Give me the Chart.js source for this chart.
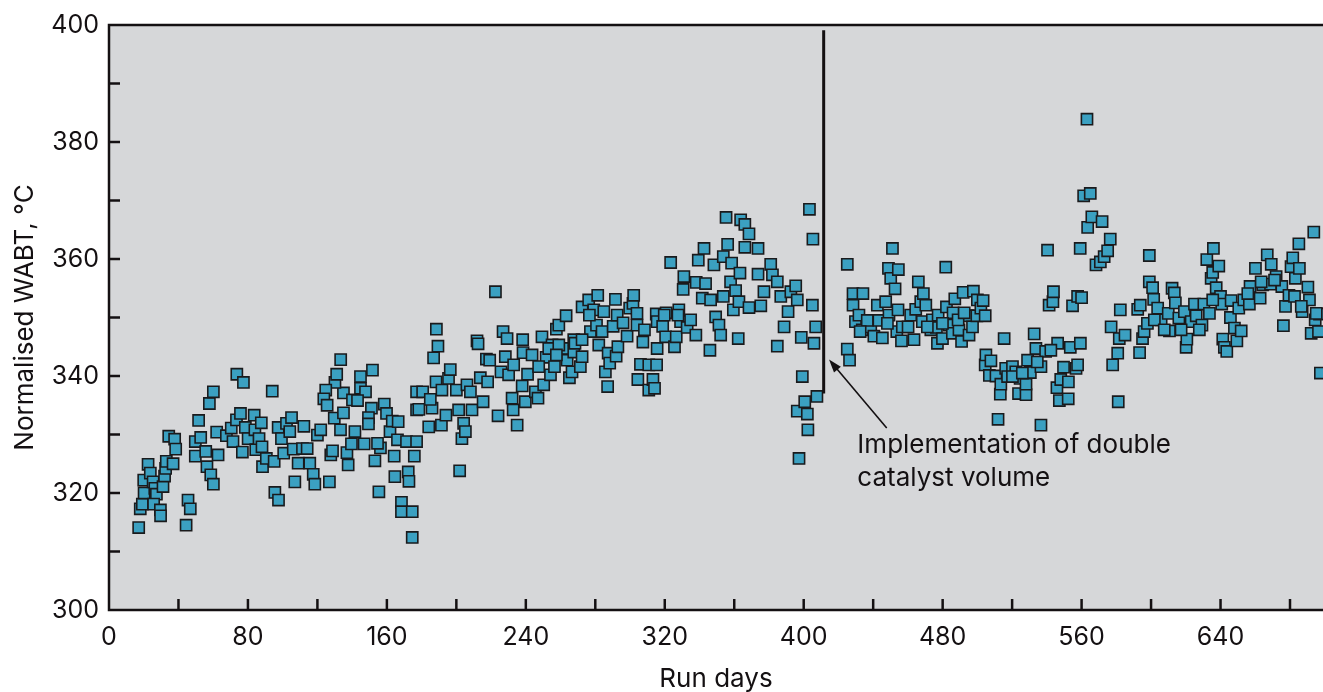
<!DOCTYPE html>
<html><head><meta charset="utf-8">
<script src="https://cdn.jsdelivr.net/npm/chart.js@4.4.1/dist/chart.umd.min.js"></script>
<style>html,body{margin:0;padding:0;background:#fff;}canvas{display:block;}</style>
</head><body>
<canvas id="c" width="1323" height="692"></canvas>
<script>
// ---- data ----
const days = [
17.1,18,19.2,20.2,20,22.5,23.8,25.4,26.4,27.3,25.7,29.6,29.7,31.1,32,32.6,33,36.9,34.4,37.8,38.4,45.5,46.8,44.4,49.7,52.8,49.7,55.7,51.6,56.4,58.6,60.1,57.8,60.1,62,62.8,67.6,70.4,71.4,73.6,77.4,73.4,75.7,78.5,76.8,80.1,83.6,84,84.5,87.7,86.4,88.1,88.4,94,90.6,95.1,97.4,95.5,97.6,99.3,100.6,102.2,105.1,104.1,106.1,107,108.9,111.4,112.2,114.1,115.6,117.6,118.5,120,121.9,126.9,127.7,128.7,129.7,133.3,135,130.1,131.1,133.4,124.8,123.7,125.6,135,137,137.7,140.2,141.6,139.6,144.8,144.8,147.7,143.1,146.9,151.7,151.1,149.4,149.4,153.1,155.4,156.3,154.6,158.5,159.8,161.8,163.1,166.5,164.6,164.2,166.1,168.4,168.4,171.3,172.3,172.7,174.6,174.6,175.8,177.1,177.1,177.1,
178.4,180.6,184.1,186,186.9,188.3,188.5,189.4,191.4,191.7,194,195.5,196.5,200,201.3,203.2,204.2,206.1,208.1,209,211.9,212.5,213.8,215.4,217.3,218,219.2,222.5,224,225.7,226.9,228.2,229.2,230.1,232.1,232.7,233,235,237.9,238.2,238.4,239.7,241,243.6,245.5,247,249.3,250.3,251.7,254.2,255.1,256.5,257.6,259,261.8,263.2,263.8,265.1,266.6,267.6,267.6,271.4,272.4,272.4,276.2,277.2,279.1,280.7,281.4,282,283.9,284.9,285.8,287.1,287.4,288.3,290.3,291.6,292,292.6,293,296,298.3,299.8,301.7,302.1,304,304,304.5,306,307.4,308.3,310.8,310.8,313.2,314.1,315.1,315.3,315.6,315.6,318.8,320.5,320.8,323.4,325.6,326.6,328.1,329.1,330.6,331,332.9,334.9,337.9,338.1,339.3,341.6,342.6,343.5,346,346.4,348.3,349.3,351.2,352.2,353.7,353.7,355.3,356.2,357.9,358.5,359.5,360.8,362.3,362.7,363.3,363.7,366.1,366.1,368.5,368.5,373.7,373.7,375.3,377.1,381,382,384.8,384.8,386.8,388.7,391,392.6,395.4,396.3,396.3,397.3,398.6,399.2,400.6,402.1,402.4,403.3,405,405.3,405.9,406.9,407.6,
185,205.2,201.9,253.2,247.4,259,257.6,268.3,272.4,276.6,319.7,327.6,
425.1,425.1,426.4,428.4,428.4,429.8,431.8,433.7,434.1,438.6,440.4,442.4,443.3,445.3,447.2,448.8,449.1,450.1,451.1,452.6,453.6,454.3,454.5,456.3,456.8,461.6,463.5,464.5,466,467.4,468.3,468.9,470.3,473.2,474.1,476.4,477,477.4,479.9,481.8,482.2,483.7,485.6,486,487,489.4,490.9,491.8,494.3,495.2,497.2,497.7,499.7,500,502,503.3,504.5,504.5,504.9,506.9,507.8,510.7,511.9,513.2,513.5,515.4,516.3,517.4,520.2,522.1,523.7,524.6,528,528,528.9,530.5,532.7,533.7,536.6,536.6,539.3,540.4,541.3,543.5,543.8,545.8,546.2,547.2,548,549.6,552.3,552.4,553.5,554.8,556.8,557.7,557.7,559.2,559.3,560,
436.6,432.5,448.2,460.1,471.2,479.9,488.9,492.4,520.2,525.9,534.5,542.3,
561.2,563.1,563.5,565,565.9,568.3,570.8,571.8,573,575,576.5,577,577.9,580.8,581.1,581.7,582.3,585,592.3,593.4,593.8,595.1,596,597.9,599,599,600.9,601.5,603.8,605.8,609.9,610.6,612.1,613.4,614,616,619.2,620.2,620.6,623.1,625,626,629.3,630.4,632.1,633.6,634.6,635.5,635.9,637.5,639,640,640.7,641.3,642.2,643.6,645.7,646.1,648,649.4,650.5,651.9,653.4,656.6,657,660.1,662.8,664.3,666.9,668.8,669.2,672,675.3,676.2,677.4,679.4,680.6,681.6,683.1,685.1,685.4,687,690.3,691.2,692.2,693.7,694.5,696.4,697,697.5,
601.9,607.6,617.3,627.8,635.5,655.7,663.4,671.1,682.6,686.5,695.1
];
const wabt = [
314.1,317.3,318.1,320,322.2,324.9,323.4,321.9,320.8,319.8,318.1,317.1,316.1,321.1,322.9,324.2,325.4,325,329.7,329.2,327.5,318.8,317.3,314.5,328.8,329.5,326.3,327.1,332.4,324.5,323.1,321.5,335.3,337.3,330.4,326.5,329.8,331.1,328.8,340.3,338.9,332.5,333.6,331.2,327,329.3,333.3,330.8,327.4,332,329.3,327.9,324.5,337.4,325.9,325.4,331.2,320.1,318.8,329.3,326.8,331.9,332.9,330.5,327.5,321.9,325.1,327.6,331.4,327.6,325.1,323.2,321.5,329.9,330.8,321.9,326.5,327.2,332.8,330.8,337.1,338.9,340.3,342.8,337.6,336.1,335,333.7,326.9,324.8,335.9,330.5,328.4,339.9,337.9,337.3,335.8,328.4,341,334.5,332.9,331.8,325.5,320.2,327.7,328.5,335.2,333.6,330.5,332.3,332.2,322.8,326.3,329.1,318.4,316.8,328.8,323.6,322,316.8,312.4,326.3,328.8,334.2,337.3,
334.3,337.3,331.3,334.5,343.1,339,348,345.1,331.6,337.6,333.3,339.6,341.1,337.6,334.2,329.3,331.9,338.5,337.3,334.2,346,345.5,339.7,335.6,342.9,339,342.7,354.4,333.2,340.7,347.6,343.3,346.4,340.2,336.2,334.2,341.9,331.6,338.3,346.2,344,335.6,340.3,343.6,337.3,336.2,346.7,338.5,343.2,340.2,345.3,341.6,348,348.7,344.7,350.3,342.7,339.7,340.7,344.1,346.2,341.6,343.3,351.8,353,347.6,351.3,348.7,353.8,345.3,347.6,351,340.7,338.2,343.9,342.2,348.5,353.1,343.4,350.4,345,349.1,346.8,351.6,352.4,353.8,350.7,348.7,339.4,342,345.8,347.9,341.9,337.6,339.4,337.9,350.6,341.9,349.3,344.7,348.5,346.7,350.8,359.4,345,346.7,351.3,349.3,354.8,357,348.3,349.6,347,356,359.8,353.3,361.8,355.8,344.4,353,359,350.1,348.7,347,353.6,360.4,367.1,362.5,356.1,359.3,351.3,354.6,346.4,352.7,357.6,366.7,365.9,362,364.3,351.7,361.8,357.4,352,354.4,359.1,357.3,356.1,345.1,353.6,348.4,351,354.4,355.4,353,334,325.9,346.6,339.9,335.6,333.5,330.8,368.5,352.1,363.4,345.6,348.4,336.5,
336,330.5,323.8,344.7,341.6,345.3,343.6,345.6,346.2,350.4,350.4,350.4,
359.1,344.6,342.7,354.1,352.1,349.3,350.4,347.9,354.1,348.4,346.8,352.1,349.5,346.5,352.7,358.4,350.4,356.7,361.8,354.9,347.6,351.3,358.2,346,348.4,350.4,346.2,351.4,356.1,352.7,349.3,354.1,352.1,347.9,349.6,348.3,345.6,350.4,346.4,358.6,351.8,348.7,347.3,350.8,353.2,347.9,345.9,354.3,350.3,347,348.4,354.5,350.3,353,351.6,352.9,350.3,341.9,343.6,340.1,342.6,340,332.6,336.9,338.6,346.4,341.3,339.9,341.6,340.7,337,339.6,336.8,338.6,342.7,340.6,347.2,344.7,341.6,331.6,344.2,361.5,352.1,352.7,354.4,338,345.6,335.8,339.4,341.5,336.1,339,344.9,352,341.3,353.6,341.9,361.8,345.6,353.4,
349.5,347.6,349,348.4,348.4,349,349.6,350.8,339.9,340.5,342.4,344.4,
370.8,383.9,365.4,371.2,367.2,359,359.5,366.4,360.4,361.4,363.4,348.4,341.9,343.9,335.6,346.4,351.3,347,351.4,344,352.1,346.4,347.6,349,360.6,356.1,355.1,353.1,351.6,349.6,350.7,347.7,355,354.2,352.5,349.9,351,344.9,346.3,349.3,352.3,350.3,348.7,352.3,359.9,350.7,356.7,357.7,361.8,355.1,358.8,353.6,352.3,346.3,344.9,344.2,350,352.9,348.2,346,351.6,347.7,353,352.3,355.3,358.4,353.3,355.6,360.7,355.7,359.1,357,355.3,348.6,351.9,353.8,358.7,360.2,356.7,362.6,358.4,351,355.2,353,347.3,364.6,349.6,347.6,350.6,340.5,
349.6,347.9,347.9,347.9,353,354.1,356.1,356.4,353.6,351.9,350.7
];
const xLabelTicks = [0, 80, 160, 240, 320, 400, 480, 560, 640];
const yLabelTicks = [300, 320, 340, 360, 380, 400];
const changeDay = 411.5;            // vertical marker line
const changeLineRange = [337, 399.1];
const noteLines = ['Implementation of double', 'catalyst volume'];
const noteAnchor = {x: 430.9, y: 326.8, y2: 321.2};
const arrowFrom = {x: 447.8, y: 331.1};
const arrowTo = {x: 414.6, y: 342.8};

const FONT = 'Inter, "Liberation Sans", Arial, sans-serif';
const INK = '#141012';

const framePlugin = {
  id: 'frame',
  beforeDraw(chart) {
    const {ctx, chartArea: a} = chart;
    ctx.save();
    ctx.fillStyle = '#d6d7d9';
    ctx.fillRect(a.left, a.top, a.right - a.left, a.bottom - a.top);
    ctx.restore();
  },
  afterDatasetsDraw(chart) {
    const {ctx, chartArea: a, scales: {x, y}} = chart;
    ctx.save();
    ctx.strokeStyle = INK;
    ctx.lineCap = 'butt';
    // inward ticks
    ctx.lineWidth = 2.5;
    x.ticks.forEach(t => {
      if (t.value <= x.min || t.value >= x.max) return;
      const px = x.getPixelForValue(t.value);
      ctx.beginPath(); ctx.moveTo(px, a.bottom); ctx.lineTo(px, a.bottom - 11); ctx.stroke();
    });
    y.ticks.forEach(t => {
      if (t.value <= y.min || t.value >= y.max) return;
      const py = y.getPixelForValue(t.value);
      ctx.beginPath(); ctx.moveTo(a.left, py); ctx.lineTo(a.left + 11, py); ctx.stroke();
    });
    // frame
    ctx.lineWidth = 2.5;
    ctx.beginPath();
    ctx.moveTo(a.right + 2, a.top); ctx.lineTo(a.left, a.top); ctx.lineTo(a.left, a.bottom); ctx.lineTo(a.right + 2, a.bottom);
    ctx.stroke();
    // vertical marker line
    const vx = x.getPixelForValue(changeDay);
    ctx.lineWidth = 3;
    ctx.beginPath(); ctx.moveTo(vx, y.getPixelForValue(changeLineRange[1])); ctx.lineTo(vx, y.getPixelForValue(changeLineRange[0])); ctx.stroke();
    // arrow
    const x1 = x.getPixelForValue(arrowFrom.x), y1 = y.getPixelForValue(arrowFrom.y);
    const x2 = x.getPixelForValue(arrowTo.x), y2 = y.getPixelForValue(arrowTo.y);
    const ang = Math.atan2(y2 - y1, x2 - x1);
    const hl = 13, hw = 4.5;
    ctx.lineWidth = 1.6;
    ctx.beginPath(); ctx.moveTo(x1, y1); ctx.lineTo(x2 - Math.cos(ang) * (hl - 2), y2 - Math.sin(ang) * (hl - 2)); ctx.stroke();
    ctx.fillStyle = INK;
    ctx.beginPath();
    ctx.moveTo(x2, y2);
    ctx.lineTo(x2 - Math.cos(ang) * hl - Math.sin(ang) * hw, y2 - Math.sin(ang) * hl + Math.cos(ang) * hw);
    ctx.lineTo(x2 - Math.cos(ang) * hl + Math.sin(ang) * hw, y2 - Math.sin(ang) * hl - Math.cos(ang) * hw);
    ctx.closePath(); ctx.fill();
    // note text
    ctx.font = '26px ' + FONT;
    ctx.textAlign = 'left';
    ctx.textBaseline = 'alphabetic';
    const tx = x.getPixelForValue(noteAnchor.x);
    ctx.fillText(noteLines[0], tx, y.getPixelForValue(noteAnchor.y));
    ctx.fillText(noteLines[1], tx, y.getPixelForValue(noteAnchor.y2));
    ctx.restore();
  }
};

new Chart(document.getElementById('c'), {
  type: 'scatter',
  data: {
    datasets: [{
      data: days.map((d, i) => ({x: d, y: wabt[i]})),
      pointStyle: 'rect',
      pointRadius: 7.9,
      pointHoverRadius: 7.9,
      backgroundColor: '#3ba0c1',
      borderColor: '#1a1a1c',
      borderWidth: 1.6
    }]
  },
  options: {
    responsive: false,
    animation: false,
    devicePixelRatio: 1,
    layout: {autoPadding: false, padding: {top: 25, right: 0, bottom: 0, left: 0}},
    plugins: {legend: {display: false}, tooltip: {enabled: false}},
    scales: {
      x: {
        type: 'linear', position: 'bottom', min: 0, max: 699,
        grid: {display: false, drawTicks: false},
        border: {display: false},
        ticks: {
          stepSize: 40, includeBounds: false, autoSkip: false, maxRotation: 0, padding: 12,
          color: INK, font: {family: FONT, size: 25},
          callback: v => xLabelTicks.includes(v) ? String(v) : ''
        },
        title: {display: true, text: 'Run days', color: INK, font: {family: FONT, size: 26, lineHeight: 1.0}, padding: {top: 0, bottom: 0}},
        afterFit: s => { s.height = 82; }
      },
      y: {
        type: 'linear', position: 'left', min: 300, max: 400,
        grid: {display: false, drawTicks: false},
        border: {display: false},
        ticks: {
          stepSize: 10, includeBounds: false, autoSkip: false, padding: 10,
          color: INK, font: {family: FONT, size: 25},
          callback: v => yLabelTicks.includes(v) ? String(v) : ''
        },
        title: {display: true, text: 'Normalised WABT, °C', color: INK, font: {family: FONT, size: 26}, padding: {top: 10, bottom: 0}},
        afterFit: s => { s.width = 109; }
      }
    }
  },
  plugins: [framePlugin]
});
</script>
</body></html>
